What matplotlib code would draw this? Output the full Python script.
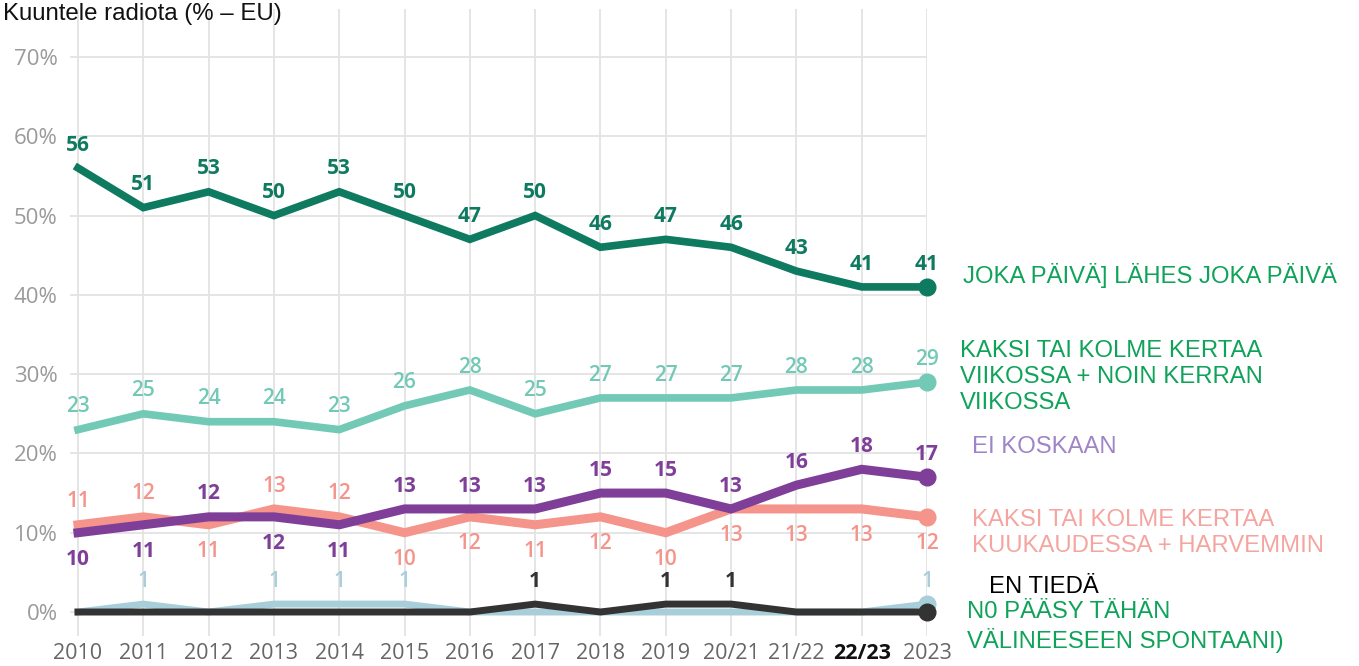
import matplotlib as mpl
import matplotlib.pyplot as plt
import numpy as np

# data
years = ['2010', '2011', '2012', '2013', '2014', '2015', '2016', '2017',
         '2018', '2019', '20/21', '21/22', '22/23', '2023']
daily = [56, 51, 53, 50, 53, 50, 47, 50, 46, 47, 46, 43, 41, 41]
weekly = [23, 25, 24, 24, 23, 26, 28, 25, 27, 27, 27, 28, 28, 29]
never = [10, 11, 12, 12, 11, 13, 13, 13, 15, 15, 13, 16, 18, 17]
monthly = [11, 12, 11, 13, 12, 10, 12, 11, 12, 10, 13, 13, 13, 12]
no_access = [0, 1, 0, 1, 1, 1, 0, 0, 0, 0, 0, 0, 0, 1]
dont_know = [0, 0, 0, 0, 0, 0, 0, 1, 0, 1, 1, 0, 0, 0]

# label side: 1 above the point, -1 below
never_side = [-1, -1, 1, -1, -1, 1, 1, 1, 1, 1, 1, 1, 1, 1]
monthly_side = [1, 1, -1, 1, 1, -1, -1, -1, -1, -1, -1, -1, -1, -1]

yticks = [0, 10, 20, 30, 40, 50, 60, 70]

mpl.rcParams['font.family'] = ['Open Sans', 'DejaVu Sans']

W, H = 1359, 666
fig = plt.figure(figsize=(W/100, H/100), dpi=100)
ax = fig.add_axes([70/W, (H-635.8)/H, 857/W, 626.4/H])
ax.set_xlim(-0.1225, 13)
ax.set_ylim(-3, 76)
for s in ax.spines.values():
	s.set_visible(False)

x = np.arange(len(years))
grid_c = '#e3e3e3'
for yv in yticks:
	ax.axhline(yv, color=grid_c, lw=1.3, zorder=0)
for xv in x:
	ax.axvline(xv, color=grid_c, lw=1.3, zorder=0)

ax.set_xticks(x)
ax.set_xticklabels(years)
ax.set_yticks(yticks)
ax.set_yticklabels([f'{v}%' for v in yticks])
ax.tick_params(axis='x', length=0, pad=5, labelsize=15.5, labelcolor='#666666')
ax.tick_params(axis='y', length=0, pad=9, labelsize=16, labelcolor='#9a9a9a')
for lab in ax.get_xticklabels():
	if lab.get_text() == '22/23':
		lab.set_fontweight('bold')
		lab.set_color('#111111')


def draw_series(vals, color, lw, sides, weight, z, only_nonzero=False, off_up=16.5, off_dn=19):
	ax.plot(x, vals, color=color, lw=lw, solid_joinstyle='miter', zorder=z, clip_on=False)
	ax.plot(x[-1], vals[-1], 'o', color=color, ms=12, zorder=z, clip_on=False)
	for i, v in enumerate(vals):
		if only_nonzero and v == 0:
			continue
		off = off_up if sides[i] > 0 else -off_dn
		ax.annotate(str(v), (x[i], v), xytext=(0, off), textcoords='offset points',
			ha='center', va='center', fontsize=15, color=color, fontweight=weight,
			zorder=z + 1, annotation_clip=False)


up = [1] * len(years)
draw_series(no_access, '#a8cfd9', 5, up, 'semibold', 2, only_nonzero=True)
draw_series(dont_know, '#333333', 5, up, 'bold', 3, only_nonzero=True)
draw_series(monthly, '#f4948b', 6.5, monthly_side, 'semibold', 4)
draw_series(never, '#7f3f98', 6.5, never_side, 'bold', 5)
draw_series(weekly, '#72c9b6', 5.5, up, 'semibold', 6)
draw_series(daily, '#0e7a60', 5.5, up, 'bold', 7)

# title at the very top left, kept inside the figure
fig.text(0.002, 1 - 20/H, 'Kuuntele radiota (% – EU)', fontsize=17.3, family='Liberation Sans',
	va='baseline', ha='left', color='#111111')

# right side legend texts
green_t = '#0fa35a'
legend_txt = [
	(963, 275, 'JOKA PÄIVÄ] LÄHES JOKA PÄIVÄ', green_t),
	(960, 377, 'KAKSI TAI KOLME KERTAA\nVIIKOSSA + NOIN KERRAN\nVIIKOSSA', green_t),
	(972, 447, 'EI KOSKAAN', '#a084c8'),
	(972, 533, 'KAKSI TAI KOLME KERTAA\nKUUKAUDESSA + HARVEMMIN', '#f5a5a0'),
	(989, 587, 'EN TIEDÄ', '#000000'),
	(967, 627, 'N0 PÄÄSY TÄHÄN\nVÄLINEESEEN SPONTAANI)', green_t),
]
for px, py, t, c in legend_txt:
	fig.text(px/W, 1 - py/H, t, fontsize=17.2, family='Liberation Sans', color=c,
		ha='left', va='center', linespacing=1.25)

fig.savefig('out.png', dpi=100)
plt.close('all')
